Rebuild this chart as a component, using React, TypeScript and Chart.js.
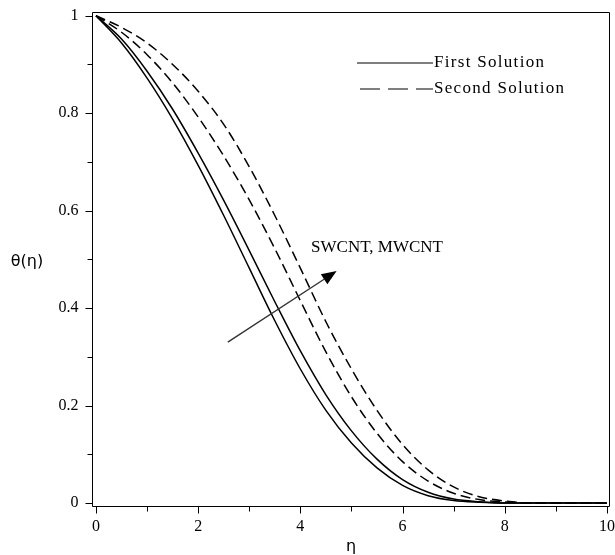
import React, { useEffect, useRef } from "react";
import { Chart, registerables } from "chart.js";

Chart.register(...registerables);

// eta grid
const eta = [0, 0.5, 1, 1.5, 2, 2.5, 3, 3.5, 4, 4.5, 5, 5.5, 6, 6.5, 7, 7.5, 8, 8.5, 9, 10];
// First solution (solid)
const firstA = [1, 0.944, 0.872, 0.788, 0.693, 0.59, 0.482, 0.374, 0.275, 0.19, 0.123, 0.072, 0.036, 0.015, 0.005, 0.0015, 0, 0, 0, 0];
const firstB = [1, 0.952, 0.886, 0.808, 0.718, 0.621, 0.518, 0.413, 0.312, 0.222, 0.148, 0.09, 0.048, 0.022, 0.008, 0.0025, 0, 0, 0, 0];
// Second solution (dashed)
const secondA = [1, 0.966, 0.92, 0.862, 0.792, 0.712, 0.622, 0.522, 0.415, 0.31, 0.218, 0.143, 0.085, 0.045, 0.02, 0.007, 0.002, 0, 0, 0];
const secondB = [1, 0.976, 0.944, 0.9, 0.845, 0.777, 0.69, 0.59, 0.482, 0.372, 0.275, 0.19, 0.12, 0.068, 0.033, 0.013, 0.004, 0, 0, 0];

const xMajor = [0, 2, 4, 6, 8, 10];
const xMinor = [1, 3, 5, 7, 9];
const yMajor = [0, 0.2, 0.4, 0.6, 0.8, 1];
const yMinor = [0.1, 0.3, 0.5, 0.7, 0.9];
const xTickLabels = ["0", "2", "4", "6", "8", "10"];
const yTickLabels = ["0", "0.2", "0.4", "0.6", "0.8", "1"];

const legendLabels = ["First Solution", "Second Solution"];
const arrowLabel = "SWCNT, MWCNT";
const arrowFrom = { x: 2.58, y: 0.33 };
const arrowTo = { x: 4.71, y: 0.476 };
const arrowText = { x: 4.21, y: 0.524 };

const pts = (ys: number[]) => eta.map((x, i) => ({ x, y: ys[i] }));

const decor = {
  id: "decor",
  afterDraw(chart: any) {
    const { ctx, chartArea: a, scales } = chart;
    const xs = scales.x;
    const ys = scales.y;
    ctx.save();
    ctx.strokeStyle = "#000";
    ctx.lineWidth = 1;
    ctx.setLineDash([]);
    const L = Math.round(a.left) + 0.5;
    const R = Math.round(a.right) - 0.5;
    const T = Math.round(a.top) + 0.5;
    const B = Math.round(a.bottom) - 0.5;
    // frame
    ctx.beginPath();
    ctx.moveTo(L, T);
    ctx.lineTo(R, T);
    ctx.lineTo(R, B);
    ctx.lineTo(L, B);
    ctx.closePath();
    ctx.stroke();
    // ticks
    ctx.beginPath();
    xMajor.forEach((v) => {
      const px = Math.round(xs.getPixelForValue(v)) + 0.5;
      ctx.moveTo(px, B);
      ctx.lineTo(px, B + 7);
    });
    xMinor.forEach((v) => {
      const px = Math.round(xs.getPixelForValue(v)) + 0.5;
      ctx.moveTo(px, B);
      ctx.lineTo(px, B + 5);
    });
    yMajor.forEach((v) => {
      const py = Math.round(ys.getPixelForValue(v)) + 0.5;
      ctx.moveTo(L, py);
      ctx.lineTo(L - 7, py);
    });
    yMinor.forEach((v) => {
      const py = Math.round(ys.getPixelForValue(v)) + 0.5;
      ctx.moveTo(L, py);
      ctx.lineTo(L - 5, py);
    });
    ctx.stroke();

    // tick labels
    ctx.fillStyle = "#000";
    ctx.font = '16px "Liberation Serif"';
    ctx.textBaseline = "middle";
    ctx.textAlign = "center";
    xMajor.forEach((v, i) => {
      ctx.fillText(xTickLabels[i], xs.getPixelForValue(v), B + 20);
    });
    ctx.textAlign = "right";
    yMajor.forEach((v, i) => {
      ctx.fillText(yTickLabels[i], L - 14, ys.getPixelForValue(v));
    });

    // axis titles
    ctx.font = '16px "DejaVu Sans"';
    ctx.textAlign = "center";
    ctx.fillText("\u03b8(\u03b7)", 27, 262);
    ctx.fillText("\u03b7", (a.left + a.right) / 2, 547);

    // legend
    const lx0 = a.right - 253;
    const lx1 = a.right - 177;
    const ly1 = a.top + 51;
    const ly2 = a.top + 77;
    ctx.lineWidth = 1.2;
    ctx.beginPath();
    ctx.moveTo(lx0, ly1);
    ctx.lineTo(lx1, ly1);
    ctx.stroke();
    ctx.setLineDash([20, 8]);
    ctx.beginPath();
    ctx.moveTo(lx0 + 3, ly2);
    ctx.lineTo(lx1, ly2);
    ctx.stroke();
    ctx.setLineDash([]);
    ctx.font = '17px "Liberation Serif"';
    (ctx as any).letterSpacing = "1.3px";
    ctx.textAlign = "left";
    ctx.fillText(legendLabels[0], lx1 + 1, ly1);
    ctx.fillText(legendLabels[1], lx1 + 1, ly2);
    (ctx as any).letterSpacing = "0px";

    // arrow annotation
    const x0 = xs.getPixelForValue(arrowFrom.x);
    const y0 = ys.getPixelForValue(arrowFrom.y);
    const x1 = xs.getPixelForValue(arrowTo.x);
    const y1 = ys.getPixelForValue(arrowTo.y);
    const ang = Math.atan2(y1 - y0, x1 - x0);
    const hl = 15;
    const hw = 6;
    const bx = x1 - hl * Math.cos(ang);
    const by = y1 - hl * Math.sin(ang);
    ctx.strokeStyle = "#333";
    ctx.lineWidth = 1.4;
    ctx.beginPath();
    ctx.moveTo(x0, y0);
    ctx.lineTo(bx, by);
    ctx.stroke();
    ctx.fillStyle = "#000";
    ctx.beginPath();
    ctx.moveTo(x1, y1);
    ctx.lineTo(bx + hw * Math.sin(ang), by - hw * Math.cos(ang));
    ctx.lineTo(bx - hw * Math.sin(ang), by + hw * Math.cos(ang));
    ctx.closePath();
    ctx.fill();

    ctx.font = '17px "Liberation Serif"';
    ctx.textAlign = "left";
    ctx.textBaseline = "middle";
    ctx.fillText(arrowLabel, xs.getPixelForValue(arrowText.x), ys.getPixelForValue(arrowText.y));
    ctx.restore();
  },
};

export default function App() {
  const ref = useRef<HTMLCanvasElement>(null);
  useEffect(() => {
    if (!ref.current) return;
    const line = (data: number[], dashed: boolean) => ({
      data: pts(data),
      borderColor: "#000",
      borderWidth: 1.5,
      borderDash: dashed ? [10, 5] : [],
      pointRadius: 0,
      fill: false,
      cubicInterpolationMode: "monotone" as const,
    });
    const chart = new Chart(ref.current, {
      type: "line",
      data: {
        datasets: [line(firstA, false), line(firstB, false), line(secondA, true), line(secondB, true)],
      },
      options: {
        responsive: false,
        animation: false,
        devicePixelRatio: 1,
        layout: { padding: { top: 12, right: 5, left: 0, bottom: 0 } },
        plugins: { legend: { display: false }, tooltip: { enabled: false } },
        scales: {
          x: {
            type: "linear",
            min: -0.078,
            max: 10.06,
            grid: { display: false },
            border: { display: false },
            ticks: { display: false },
            afterFit: (s: any) => {
              s.height = 48;
            },
          },
          y: {
            type: "linear",
            min: -0.0082,
            max: 1.0076,
            grid: { display: false },
            border: { display: false },
            ticks: { display: false },
            afterFit: (s: any) => {
              s.width = 92;
            },
          },
        },
      },
      plugins: [decor],
    });
    return () => chart.destroy();
  }, []);
  return (
    <div style={{ position: "absolute", left: 0, top: 0, width: 615, height: 555, background: "#fff" }}>
      <canvas ref={ref} width={615} height={555} style={{ display: "block" }} />
    </div>
  );
}
